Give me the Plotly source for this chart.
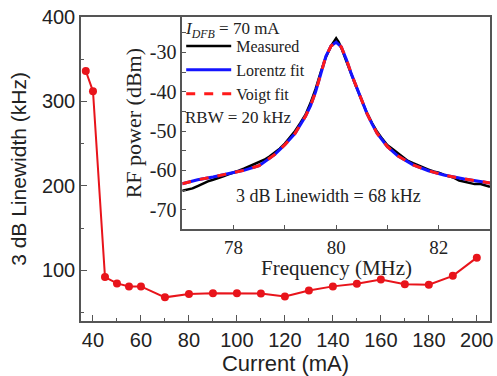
import plotly.graph_objects as go

# Main chart data
current_mA = [37, 40, 45, 50, 55, 60, 70, 80, 90, 100, 110, 120, 130, 140, 150, 160, 170, 180, 190, 200]
linewidth_kHz = [336, 312, 92, 84.5, 81, 81, 68, 72, 73, 73, 72.5, 69, 76, 81, 84, 89, 83.5, 83, 93.5, 115]

# Inset: measured spectrum
meas_freq = [77.00, 77.10, 77.20, 77.30, 77.40, 77.50, 77.60, 77.70, 77.80, 77.90,
             78.00, 78.10, 78.20, 78.30, 78.40, 78.50, 78.60, 78.70, 78.80, 78.90,
             79.00, 79.10, 79.20, 79.30, 79.40, 79.50, 79.60, 79.70, 79.80, 79.90,
             79.95, 80.00, 80.05, 80.10, 80.20, 80.30, 80.40, 80.50, 80.60, 80.70,
             80.80, 80.90, 81.00, 81.10, 81.20, 81.30, 81.40, 81.50, 81.60, 81.70,
             81.80, 81.90, 82.00, 82.10, 82.20, 82.30, 82.40, 82.50, 82.60, 82.70,
             82.80, 82.90, 83.00]
meas_power = [-65.2, -64.8, -64.6, -64.0, -63.3, -62.8, -62.4, -62.0, -61.5, -61.0,
              -60.6, -60.1, -59.6, -59.0, -58.6, -57.8, -57.3, -56.5, -55.6, -54.5,
              -53.2, -51.6, -50.0, -48.0, -45.9, -42.9, -39.3, -35.0, -31.2, -28.4,
              -27.3, -26.4, -27.4, -28.8, -32.3, -35.9, -39.0, -42.2, -45.4, -48.0,
              -50.2, -52.0, -53.6, -54.6, -55.6, -56.7, -57.6, -58.2, -58.8, -59.3,
              -59.8, -60.3, -60.6, -61.1, -61.5, -61.9, -62.6, -62.9, -63.1, -63.5,
              -63.4, -63.9, -64.2]

# Inset: fitted curves
fit_freq = [77.0, 77.3, 77.6, 77.9, 78.2, 78.5, 78.8, 79.0, 79.2, 79.4, 79.5, 79.6, 79.7,
            79.8, 79.9, 80.0, 80.1, 80.2, 80.3, 80.4, 80.5, 80.6, 80.7, 80.8, 81.0, 81.2,
            81.5, 81.8, 82.1, 82.5, 83.0]
lorentz_power = [-63.4, -62.4, -61.7, -60.9, -60.0, -58.8, -56.0, -53.5, -50.6, -46.3, -43.6,
                 -40.0, -35.2, -31.0, -28.4, -27.4, -28.6, -31.8, -35.6, -39.0, -42.4, -45.5,
                 -48.2, -50.6, -54.0, -56.3, -58.6, -60.1, -61.2, -62.2, -63.2]
voigt_power = [-63.4, -62.4, -61.7, -60.9, -60.0, -58.8, -56.0, -53.5, -50.6, -46.3, -43.6,
               -40.0, -35.2, -31.0, -28.4, -27.4, -28.6, -31.8, -35.6, -39.0, -42.4, -45.5,
               -48.2, -50.6, -54.0, -56.3, -58.6, -60.1, -61.2, -62.2, -63.2]

inset_y_ticks = [-70, -60, -50, -40, -30]
inset_y_labels = ["-70", "-60", "-50", "-40", "-30"]

SANS = "Liberation Sans, Arial, sans-serif"
SERIF = "Liberation Serif, Times New Roman, serif"
AXC = "#555555"
TXT = "#222222"
RED = "#e8141b"

fig = go.Figure()

fig.add_trace(go.Scatter(
    x=current_mA, y=linewidth_kHz, mode="lines+markers",
    line=dict(color=RED, width=2), marker=dict(color=RED, size=8),
    showlegend=False, xaxis="x", yaxis="y"))

fig.add_trace(go.Scatter(
    x=meas_freq, y=meas_power, mode="lines", name="Measured",
    line=dict(color="black", width=2.5), xaxis="x2", yaxis="y2"))
fig.add_trace(go.Scatter(
    x=fit_freq, y=lorentz_power, mode="lines", name="Lorentz fit",
    line=dict(color="#1414ff", width=3), xaxis="x2", yaxis="y2"))
fig.add_trace(go.Scatter(
    x=fit_freq, y=voigt_power, mode="lines", name="Voigt fit",
    line=dict(color="#ff1a1a", width=3, dash="dash"), xaxis="x2", yaxis="y2"))

fig.update_layout(
    width=497, height=376,
    margin=dict(l=81, r=4, t=17, b=54),
    paper_bgcolor="white", plot_bgcolor="white",
    xaxis=dict(domain=[0, 1], range=[35, 205.5], tick0=40, dtick=20,
               ticks="inside", ticklen=6, tickwidth=1, tickcolor=AXC,
               minor=dict(ticks="inside", dtick=10, ticklen=3, tickcolor=AXC),
               showline=True, linecolor=AXC, linewidth=1.5, mirror=True,
               showgrid=False, zeroline=False,
               tickfont=dict(family=SANS, size=20, color=TXT),
               title=dict(text="Current (mA)", font=dict(family=SANS, size=22, color=TXT), standoff=6)),
    yaxis=dict(domain=[0, 1], range=[40, 400], tick0=0, dtick=100,
               ticks="inside", ticklen=6, tickwidth=1, tickcolor=AXC,
               minor=dict(ticks="inside", dtick=50, ticklen=3, tickcolor=AXC),
               showline=True, linecolor=AXC, linewidth=1.5, mirror=True,
               showgrid=False, zeroline=False,
               tickfont=dict(family=SANS, size=20, color=TXT),
               title=dict(text="3 dB Linewidth (kHz)", font=dict(family=SANS, size=21, color=TXT), standoff=10)),
    xaxis2=dict(domain=[0.2476, 1], anchor="y2", range=[77, 83], tick0=78, dtick=2,
                ticks="inside", ticklen=5, tickwidth=1, tickcolor=AXC,
                minor=dict(ticks="inside", dtick=1, ticklen=5, tickcolor=AXC),
                showline=True, linecolor=AXC, linewidth=1.5, mirror=True,
                showgrid=False, zeroline=False,
                tickfont=dict(family=SERIF, size=19, color=TXT)),
    yaxis2=dict(domain=[0.3016, 1], anchor="x2", range=[-75, -21],
                tickmode="array", tickvals=inset_y_ticks, ticktext=inset_y_labels,
                ticks="inside", ticklen=4, tickwidth=1, tickcolor=AXC,
                minor=dict(ticks="inside", dtick=5, tick0=-30, ticklen=4, tickcolor=AXC),
                showline=True, linecolor=AXC, linewidth=1.5, mirror=True,
                showgrid=False, zeroline=False,
                tickfont=dict(family=SERIF, size=20, color=TXT),
                title=dict(text="RF power (dBm)", font=dict(family=SERIF, size=22, color=TXT), standoff=2)),
    legend=dict(x=0.245, y=0.96, xanchor="left", yanchor="top",
                bgcolor="rgba(0,0,0,0)", borderwidth=0, itemwidth=45,
                font=dict(family=SERIF, size=16, color=TXT), tracegroupgap=0),
    annotations=[
        dict(text="<i>I</i><sub><i>DFB</i></sub> = 70 mA", xref="paper", yref="paper",
             x=0.25, y=1.0, xanchor="left", yanchor="top", showarrow=False,
             font=dict(family=SERIF, size=17, color=TXT)),
        dict(text="RBW = 20 kHz", xref="paper", yref="paper",
             x=0.25, y=0.668, xanchor="left", yanchor="middle", showarrow=False,
             font=dict(family=SERIF, size=17, color=TXT)),
        dict(text="3 dB Linewidth = 68 kHz", xref="x2", yref="paper",
             x=79.85, y=0.41, xanchor="center", yanchor="middle", showarrow=False,
             font=dict(family=SERIF, size=18, color=TXT)),
        dict(text="Frequency (MHz)", xref="x2", yref="paper",
             x=80.0, y=0.175, xanchor="center", yanchor="middle", showarrow=False,
             font=dict(family=SERIF, size=21, color=TXT)),
    ],
)

fig.write_html("out.html", config={"displayModeBar": False},
               post_script="document.body.style.margin='0';document.body.style.padding='0';")
